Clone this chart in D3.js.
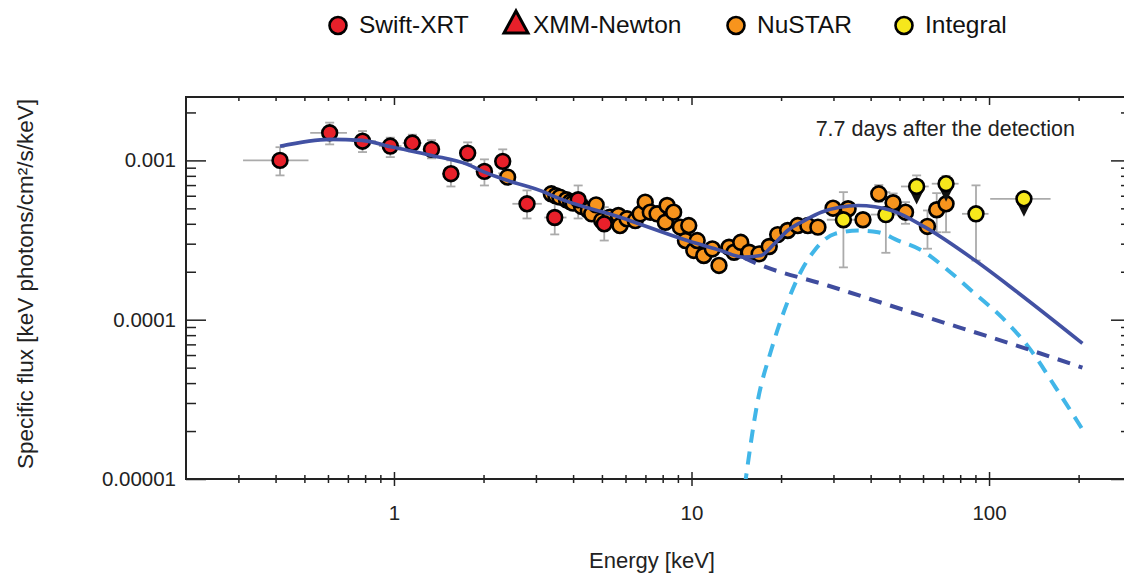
<!DOCTYPE html>
<html>
<head>
<meta charset="utf-8">
<script src="https://cdn.jsdelivr.net/npm/d3@7"></script>
<style>
  body { margin: 0; background: #fff; }
  svg { font-family: "Liberation Sans", Arial, sans-serif; }
</style>
</head>
<body>
<div id="plot"></div>
<script>
// Swift-XRT points (energy keV, flux, and error ranges)
const swiftE   = [0.414, 0.608, 0.784, 0.972, 1.153, 1.337, 1.554, 1.769, 2.014, 2.32, 2.80, 3.47, 4.16, 5.09];
const swiftF   = [1.00e-3, 1.49e-3, 1.32e-3, 1.23e-3, 1.285e-3, 1.173e-3, 0.825e-3, 1.111e-3, 0.853e-3, 0.986e-3, 0.534e-3, 0.438e-3, 0.566e-3, 0.40e-3];
const swiftFlo = [0.805e-3, 1.26e-3, 1.128e-3, 1.049e-3, 1.14e-3, 1.03e-3, 0.686e-3, 0.95e-3, 0.696e-3, 0.83e-3, 0.432e-3, 0.343e-3, 0.432e-3, 0.314e-3];
const swiftFhi = [1.21e-3, 1.726e-3, 1.528e-3, 1.389e-3, 1.45e-3, 1.34e-3, 1.0e-3, 1.298e-3, 1.015e-3, 1.173e-3, 0.648e-3, 0.56e-3, 0.696e-3, 0.509e-3];
const swiftElo = [0.311, 0.523, 0.72, 0.89, 1.07, 1.25, 1.45, 1.66, 1.88, 2.18, 2.5, 3.2, 3.85, 4.75];
const swiftEhi = [0.516, 0.695, 0.87, 1.06, 1.24, 1.43, 1.66, 1.88, 2.15, 2.47, 3.14, 3.8, 4.5, 5.45];

// NuSTAR points
const nustarE = [2.41, 3.38, 3.50, 3.61, 3.80, 3.92, 4.00, 4.27, 4.50, 4.62, 4.78, 4.99, 5.32, 5.68, 5.75, 6.07,
  6.47, 6.72, 6.99, 7.27, 7.66, 8.17, 8.28, 8.71, 9.18, 9.54, 9.79, 10.18, 10.45, 11.0, 11.75, 12.37, 13.37,
  13.9, 14.64, 15.62, 16.88, 18.25, 19.48, 21.05, 22.75, 24.6, 26.6, 29.9, 33.6, 37.7, 42.6, 47.6, 52.4,
  62.1, 66.7, 71.7];
const nustarF = [0.785e-3, 0.617e-3, 0.60e-3, 0.588e-3, 0.566e-3, 0.55e-3, 0.539e-3, 0.514e-3, 0.485e-3, 0.462e-3,
  0.526e-3, 0.419e-3, 0.440e-3, 0.451e-3, 0.390e-3, 0.430e-3, 0.419e-3, 0.462e-3, 0.547e-3, 0.473e-3, 0.462e-3,
  0.409e-3, 0.521e-3, 0.473e-3, 0.381e-3, 0.314e-3, 0.390e-3, 0.272e-3, 0.314e-3, 0.253e-3, 0.278e-3, 0.219e-3,
  0.285e-3, 0.265e-3, 0.306e-3, 0.265e-3, 0.259e-3, 0.288e-3, 0.342e-3, 0.363e-3, 0.390e-3, 0.390e-3, 0.381e-3,
  0.501e-3, 0.497e-3, 0.424e-3, 0.617e-3, 0.542e-3, 0.473e-3, 0.385e-3, 0.490e-3, 0.534e-3];
// NuSTAR error bars that stick out of the markers
const nustarBarE   = [42.6, 47.6, 52.4, 62.1, 66.7, 71.7];
const nustarBarLo  = [0.55e-3, 0.47e-3, 0.40e-3, 0.279e-3, 0.354e-3, 0.354e-3];
const nustarBarHi  = [0.70e-3, 0.62e-3, 0.547e-3, 0.485e-3, 0.623e-3, 0.66e-3];
const nustarBarElo = [40.0, 44.5, 47.6, 58.0, 63.5, 68.5];
const nustarBarEhi = [45.0, 50.5, 53.6, 65.0, 69.5, 75.0];

// Integral points
const integralE   = [32.4, 45.0, 57.1, 71.7, 90.4, 131];
const integralF   = [0.424e-3, 0.457e-3, 0.686e-3, 0.714e-3, 0.462e-3, 0.574e-3];
const integralFlo = [0.213e-3, 0.263e-3, null, null, 0.235e-3, null];
const integralFhi = [0.632e-3, 0.632e-3, 0.805e-3, 0.80e-3, 0.697e-3, null];
const integralElo = [28.5, 40.0, 50.6, 64.2, 81.1, 100.9];
const integralEhi = [38.0, 50.6, 62.7, 79.0, 99.6, 161];
const integralUL  = [false, false, true, true, false, true];

// Model curves
const totalE = [0.414, 0.608, 0.781, 0.987, 1.337, 1.768, 2.014, 2.41, 3.25, 3.42, 5.75, 9.67, 12.53, 14.84,
  17.1, 18.97, 21.05, 23.95, 27.3, 36.3, 47.0, 60.9, 89.9, 122.7, 206];
const totalF = [1.225e-3, 1.355e-3, 1.336e-3, 1.212e-3, 1.075e-3, 0.944e-3, 0.844e-3, 0.748e-3, 0.625e-3, 0.598e-3,
  0.440e-3, 0.314e-3, 0.272e-3, 0.247e-3, 0.253e-3, 0.299e-3, 0.363e-3, 0.419e-3, 0.473e-3, 0.521e-3, 0.485e-3,
  0.381e-3, 0.235e-3, 0.152e-3, 0.071e-3];
const powerE = [15.0, 16.7, 28.7, 59.4, 119.6, 206];
const powerF = [0.245e-3, 0.224e-3, 0.164e-3, 0.106e-3, 0.0703e-3, 0.050e-3];
const humpE = [15.1, 16.7, 18.5, 20.5, 23.4, 25.9, 30.3, 36.3, 42.4, 49.5, 59.4, 73.1, 89.9, 110.7, 136, 167.5, 206];
const humpF = [0.9e-5, 3.10e-5, 6.38e-5, 1.14e-4, 2.03e-4, 2.72e-4, 3.46e-4, 3.63e-4, 3.54e-4, 3.14e-4, 2.72e-4,
  2.03e-4, 1.45e-4, 1.03e-4, 6.7e-5, 3.75e-5, 2.05e-5];

// Axis ticks and labels
const xMajor = [1, 10, 100];
const xTickLabels = ["1", "10", "100"];
const yMajor = [1e-5, 1e-4, 1e-3];
const yTickLabels = ["0.00001", "0.0001", "0.001"];
const legendNames = ["Swift-XRT", "XMM-Newton", "NuSTAR", "Integral"];

const width = 1124, height = 580;
const box = {left: 186, right: 1131, top: 97, bottom: 479};
const red = "#e8202a", orange = "#f7941d", yellow = "#f6e71c";
const modelBlue = "#4251a3", dashBlue = "#3f4c9e", lightBlue = "#41b6e8", grey = "#ababab";

const svg = d3.select("#plot").append("svg")
  .attr("width", width)
  .attr("height", height);

const x = d3.scaleLog().domain([0.2, 300]).range([box.left, box.right]);
const y = d3.scaleLog().domain([1e-5, 0.0025]).range([box.bottom, box.top]);

const isMajor = d => Math.abs(Math.log10(d) - Math.round(Math.log10(d))) < 1e-9;
const xMinor = x.ticks().filter(d => !isMajor(d) && d > 0.21 && d < 290);
const yMinor = y.ticks().filter(d => !isMajor(d));

svg.append("defs").append("clipPath").attr("id", "clip")
  .append("rect")
    .attr("x", box.left).attr("y", box.top)
    .attr("width", box.right - box.left).attr("height", box.bottom - box.top);

// Axes
const styleAxis = g => {
  g.select(".domain").remove();
  g.selectAll(".tick line").attr("stroke", "#222").attr("stroke-width", 1.5);
  g.selectAll("text").attr("fill", "#222").style("font-size", "20.5px")
    .style("font-family", "'Liberation Sans', Arial, sans-serif");
};

// bottom (ticks cross the axis line)
svg.append("g").attr("transform", `translate(0,${box.bottom})`)
  .call(d3.axisBottom(x).tickValues(xMinor).tickSize(4).tickFormat(""))
  .call(styleAxis)
  .call(g => g.selectAll(".tick line").attr("y1", -4));
svg.append("g").attr("transform", `translate(0,${box.bottom})`)
  .call(d3.axisBottom(x).tickValues(xMajor).tickSize(7).tickPadding(19)
    .tickFormat((d, i) => xTickLabels[i]))
  .call(styleAxis)
  .call(g => g.selectAll(".tick line").attr("y1", -7));

// top (inward)
svg.append("g").attr("transform", `translate(0,${box.top})`)
  .call(d3.axisBottom(x).tickValues(xMinor).tickSize(4).tickFormat(""))
  .call(styleAxis);
svg.append("g").attr("transform", `translate(0,${box.top})`)
  .call(d3.axisBottom(x).tickValues(xMajor).tickSize(8).tickFormat(""))
  .call(styleAxis);

// left (inward ticks, labels outside)
svg.append("g").attr("transform", `translate(${box.left},0)`)
  .call(d3.axisLeft(y).tickValues(yMinor).tickSizeInner(-10).tickSizeOuter(0).tickFormat(""))
  .call(styleAxis);
svg.append("g").attr("transform", `translate(${box.left},0)`)
  .call(d3.axisLeft(y).tickValues(yMajor).tickSizeInner(-20).tickSizeOuter(0).tickPadding(10)
    .tickFormat((d, i) => yTickLabels[i]))
  .call(styleAxis);

// right (inward)
svg.append("g").attr("transform", `translate(${box.right},0)`)
  .call(d3.axisLeft(y).tickValues(yMinor).tickSize(10).tickFormat(""))
  .call(styleAxis);
svg.append("g").attr("transform", `translate(${box.right},0)`)
  .call(d3.axisLeft(y).tickValues(yMajor).tickSize(20).tickFormat(""))
  .call(styleAxis);

// frame
svg.append("rect")
  .attr("x", box.left).attr("y", box.top)
  .attr("width", box.right - box.left).attr("height", box.bottom - box.top)
  .attr("fill", "none").attr("stroke", "#222").attr("stroke-width", 2);

// Axis titles
svg.append("text")
  .attr("x", 652).attr("y", 568)
  .attr("text-anchor", "middle")
  .attr("fill", "#222")
  .style("font-size", "22px")
  .text("Energy [keV]");
svg.append("text")
  .attr("transform", "translate(33,284) rotate(-90)")
  .attr("text-anchor", "middle")
  .attr("fill", "#222")
  .style("font-size", "22.5px")
  .text("Specific flux [keV photons/cm²/s/keV]");
svg.append("text")
  .attr("x", 1075).attr("y", 136)
  .attr("text-anchor", "end")
  .attr("fill", "#222")
  .style("font-size", "21.5px")
  .text("7.7 days after the detection");

const plot = svg.append("g");
const bars = plot.append("g")
  .attr("stroke", grey).attr("stroke-width", 1.8).attr("fill", "none");

const errorBars = (E, F, Elo, Ehi, Flo, Fhi) => {
  E.forEach((e, i) => {
    if (Elo && Elo[i] != null)
      bars.append("line").attr("x1", x(Elo[i])).attr("x2", x(Ehi[i])).attr("y1", y(F[i])).attr("y2", y(F[i]));
    const top = Fhi && Fhi[i] != null ? Fhi[i] : F[i];
    const bot = Flo && Flo[i] != null ? Flo[i] : F[i];
    if (top === bot) return;
    bars.append("line").attr("x1", x(e)).attr("x2", x(e)).attr("y1", y(top)).attr("y2", y(bot));
    if (Fhi && Fhi[i] != null)
      bars.append("line").attr("x1", x(e) - 4.5).attr("x2", x(e) + 4.5).attr("y1", y(top)).attr("y2", y(top));
    if (Flo && Flo[i] != null)
      bars.append("line").attr("x1", x(e) - 4.5).attr("x2", x(e) + 4.5).attr("y1", y(bot)).attr("y2", y(bot));
  });
};

errorBars(swiftE, swiftF, swiftElo, swiftEhi, swiftFlo, swiftFhi);
errorBars(nustarBarE, nustarBarE.map(e => nustarF[nustarE.indexOf(e)]),
  nustarBarElo, nustarBarEhi, nustarBarLo, nustarBarHi);
errorBars(integralE, integralF, integralElo, integralEhi, integralFlo, integralFhi);

const r = 7.4;
const dots = (E, F, fill) => {
  plot.append("g").selectAll("circle")
    .data(E)
    .join("circle")
      .attr("cx", d => x(d))
      .attr("cy", (d, i) => y(F[i]))
      .attr("r", r)
      .attr("fill", fill)
      .attr("stroke", "#000")
      .attr("stroke-width", 2.6);
};

dots(nustarE, nustarF, orange);
dots(swiftE, swiftF, red);

// upper limit arrows under Integral points
plot.append("g").selectAll("path")
  .data(integralE.filter((d, i) => integralUL[i]))
  .join("path")
    .attr("d", d => {
      const i = integralE.indexOf(d);
      const cx = x(d), cy = y(integralF[i]);
      return `M${cx - 7.5},${cy + 3}L${cx + 7.5},${cy + 3}L${cx},${cy + 18}Z`;
    })
    .attr("fill", "#111");
dots(integralE, integralF, yellow);

// Model lines
const line = d3.line().curve(d3.curveMonotoneX);
const curves = svg.append("g").attr("clip-path", "url(#clip)").attr("fill", "none");
curves.append("path")
  .attr("d", line(humpE.map((e, i) => [x(e), y(humpF[i])])))
  .attr("stroke", lightBlue).attr("stroke-width", 4).attr("stroke-dasharray", "13,9");
curves.append("path")
  .attr("d", line(powerE.map((e, i) => [x(e), y(powerF[i])])))
  .attr("stroke", dashBlue).attr("stroke-width", 4).attr("stroke-dasharray", "13,9");
curves.append("path")
  .attr("d", line(totalE.map((e, i) => [x(e), y(totalF[i])])))
  .attr("stroke", modelBlue).attr("stroke-width", 3.6);

// Legend
const legendX = [338, 516, 736, 904];
const legendFill = [red, red, orange, yellow];
const legend = svg.append("g");
legendNames.forEach((name, i) => {
  if (i === 1) {
    legend.append("path")
      .attr("d", `M${legendX[i]},11L${legendX[i] + 12},33L${legendX[i] - 12},33Z`)
      .attr("fill", red).attr("stroke", "#000").attr("stroke-width", 3)
      .attr("stroke-linejoin", "miter");
  } else {
    legend.append("circle")
      .attr("cx", legendX[i]).attr("cy", 25.5).attr("r", 8.5)
      .attr("fill", legendFill[i]).attr("stroke", "#000").attr("stroke-width", 2.6);
  }
  legend.append("text")
    .attr("x", legendX[i] + (i === 1 ? 17 : 21)).attr("y", 33)
    .attr("fill", "#111")
    .style("font-size", "24.5px")
    .text(name);
});
</script>
</body>
</html>
